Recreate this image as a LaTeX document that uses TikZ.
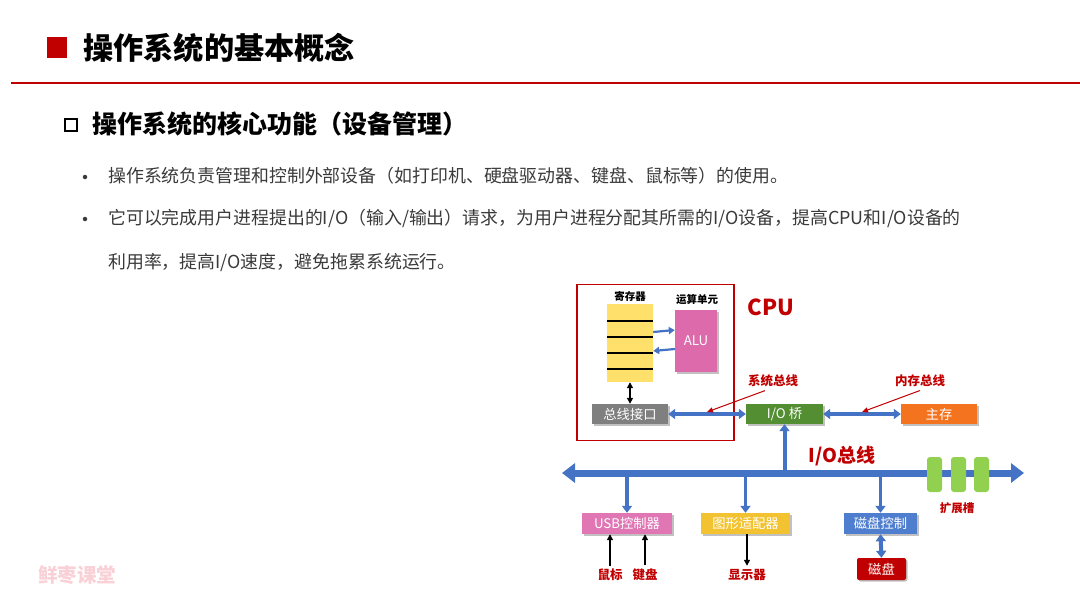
\documentclass[tikz,border=0pt]{standalone}
\usepackage{fontspec}
\setmainfont{Noto Sans CJK SC}
\usetikzlibrary{arrows.meta,shadows}
\definecolor{myred}{HTML}{C00000}
\definecolor{bodytxt}{HTML}{3A3A3A}
\definecolor{busblue}{HTML}{4472C4}
\definecolor{regyellow}{HTML}{FFE06A}
\definecolor{alupink}{HTML}{DD6AAB}
\definecolor{usbpink}{HTML}{E076B4}
\definecolor{gfxgold}{HTML}{F2C230}
\definecolor{bridgegreen}{HTML}{548E33}
\definecolor{memorange}{HTML}{F4731F}
\definecolor{ifgray}{HTML}{7F7F7F}
\definecolor{slotgreen}{HTML}{92D050}
\definecolor{diskblue}{HTML}{4F7ECF}
\definecolor{wmpink}{HTML}{F8D0D5}
\begin{document}
\begin{tikzpicture}[x=1pt,y=-1pt,
  fbox/.style={inner sep=0pt, text=white, font=\fontsize{13.3}{13.3}\selectfont,
    drop shadow={shadow xshift=1.5pt, shadow yshift=-1.5pt, opacity=0.35, fill=black!70}},
  redlbl/.style={text=myred, font=\bfseries\fontsize{12.5}{12.5}\selectfont},
  smalllbl/.style={text=black, font=\bfseries\fontsize{10.5}{10.5}\selectfont},
  bodyline/.style={anchor=west, text=bodytxt, inner sep=0pt, font=\fontsize{17.9}{17.9}\selectfont},
  bulletdot/.style={circle, fill=bodytxt, inner sep=0pt, minimum size=4.5pt},
  bluewide/.style={draw=busblue, line width=4pt},
  bluethin/.style={draw=busblue, line width=2.2pt, -{Triangle[length=6pt,width=7pt]}},
  blkarr/.style={draw=black, line width=1.4pt, -{Triangle[length=6pt,width=6pt]}},
  redarr/.style={draw=myred, line width=1pt, -{Triangle[length=6pt,width=5pt]}},
  bltip/.style={-{Triangle[length=7pt,width=10pt]}},
  bltips/.style={{Triangle[length=7pt,width=10pt]}-{Triangle[length=7pt,width=10pt]}}
]
\useasboundingbox (0,0) rectangle (1080,608);

% ---- header ----
\fill[myred] (47,37) rectangle (67,58);
\node[anchor=west, inner sep=0pt, font=\bfseries\fontsize{30.2}{30.2}\selectfont] (title) at (83,48) {操作系统的基本概念};
\draw[myred, line width=1.5pt] (11,83) -- (1080,83);
\draw[line width=2pt] (64.5,118.5) rectangle (77,130.5);
\node[anchor=west, inner sep=0pt, font=\bfseries\fontsize{25}{25}\selectfont] (sub) at (92,124) {操作系统的核心功能（设备管理）};

% ---- bullets ----
\node[bulletdot] (b1) at (85,177) {};
\node[bodyline] (l1) at (108,176) {操作系统负责管理和控制外部设备（如打印机、硬盘驱动器、键盘、鼠标等）的使用。};
\node[bulletdot] (b2) at (85,219) {};
\node[bodyline] (l2) at (108,218) {它可以完成用户进程提出的I/O（输入/输出）请求，为用户进程分配其所需的I/O设备，提高CPU和I/O设备的};
\node[bodyline] (l3) at (108,263) {利用率，提高I/O速度，避免拖累系统运行。};

% ---- CPU ----
\node[draw=myred, line width=1.2pt, minimum width=157pt, minimum height=156pt, inner sep=0pt] (cpu) at (655.5,362.5) {};
\node[text=myred, font=\bfseries\fontsize{22}{22}\selectfont] (cpulbl) at (771,307) {CPU};
\node[smalllbl] (reglbl) at (630,296) {寄存器};
\node[smalllbl] (alulbl) at (697,300) {运算单元};
\node[fill=regyellow, minimum width=46pt, minimum height=78pt, inner sep=0pt] (regs) at (630,343) {};
\foreach \yy in {321,337,353,369} \draw[line width=1.2pt] (607,\yy) -- (653,\yy);
\node[fbox, fill=alupink, minimum width=42pt, minimum height=62pt] (alu) at (696,341) {ALU};
\draw[bluethin] ([yshift=11pt]regs.east) -- ([yshift=11pt]alu.west);
\draw[bluethin] ([yshift=-8pt]alu.west) -- ([yshift=-8pt]regs.east);
\node[fbox, fill=ifgray, minimum width=76pt, minimum height=20pt] (busif) at (630,414) {总线接口};
\draw[blkarr, {Triangle[length=6pt,width=6pt]}-{Triangle[length=6pt,width=6pt]}] (regs.south) -- (busif.north);

% ---- bridge & memory ----
\node[fbox, fill=bridgegreen, minimum width=77pt, minimum height=20pt] (bridge) at (784.5,414) {I/O 桥};
\node[fbox, fill=memorange, minimum width=76pt, minimum height=20pt] (mem) at (939,414) {主存};
\draw[bluewide, bltips] (busif.east) -- (bridge.west);
\draw[bluewide, bltips] (bridge.east) -- (mem.west);
\node[redlbl] (syslbl) at (773,381) {系统总线};
\coordinate (sysbus) at (707,412);
\draw[redarr] ([xshift=-8pt]syslbl.south) -- (sysbus);
\node[redlbl] (memlbl) at (920,381) {内存总线};
\coordinate (membus) at (862,412);
\draw[redarr] (memlbl.south) -- (membus);

% ---- I/O bus ----
\coordinate (busL) at (562,473);
\coordinate (busR) at (1024,473);
\draw[draw=busblue, line width=7pt, {Triangle[length=13pt,width=19pt]}-{Triangle[length=13pt,width=19pt]}] (busL) -- (busR);
\node[text=myred, font=\bfseries\fontsize{19}{19}\selectfont] (iolbl) at (842,456) {I/O总线};
\draw[bluewide, bltip] (bridge.south |- busL) -- (bridge.south);
\foreach \sx/\nm in {934.5/s1,958.5/s2,981.5/s3}
  \node[fill=slotgreen, rounded corners=3pt, minimum width=15pt, minimum height=35pt, inner sep=0pt] (\nm) at (\sx,474.5) {};
\node[redlbl, font=\bfseries\fontsize{11.5}{11.5}\selectfont] (slotlbl) at (957,508) {扩展槽};

% ---- devices ----
\node[fbox, fill=usbpink, minimum width=90pt, minimum height=21pt] (usb) at (627,523.5) {USB控制器};
\node[fbox, fill=gfxgold, minimum width=89pt, minimum height=21pt] (gfx) at (745.5,523.5) {图形适配器};
\node[fbox, fill=diskblue, minimum width=73pt, minimum height=21pt] (diskctl) at (880.5,523.5) {磁盘控制};
\node[fbox, fill=myred, rounded corners=2pt, minimum width=49pt, minimum height=22pt] (disk) at (881.5,569) {磁盘};
\draw[bluewide, line width=3.5pt, bltip] (usb.north |- busL) -- (usb.north);
\draw[bluewide, line width=3.5pt, bltip] (gfx.north |- busL) -- (gfx.north);
\draw[bluewide, line width=3.5pt, bltip] (diskctl.north |- busL) -- (diskctl.north);
\draw[bluewide, bltips] (diskctl.south) -- (disk.north);

\node[redlbl] (mouse) at (610,575) {鼠标};
\node[redlbl] (kbd) at (645,575) {键盘};
\node[redlbl] (disp) at (747,575) {显示器};
\draw[blkarr] (mouse.north) -- (mouse.north |- usb.south);
\draw[blkarr] (kbd.north) -- (kbd.north |- usb.south);
\draw[blkarr] (disp.north |- gfx.south) -- (disp.north);

% ---- watermark ----
\node[text=wmpink, font=\bfseries\fontsize{19.5}{19.5}\selectfont] (wm) at (77,575) {鲜枣课堂};
\end{tikzpicture}
\end{document}
